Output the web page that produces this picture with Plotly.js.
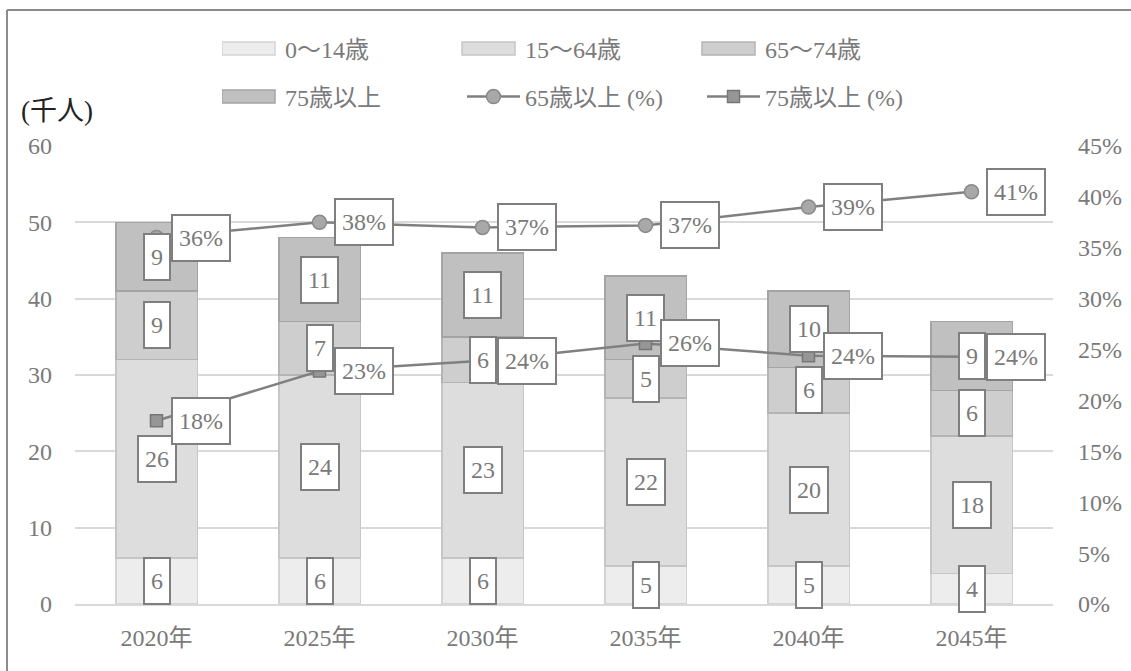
<!DOCTYPE html>
<html>
<head>
<meta charset="utf-8">
<script src="https://cdn.plot.ly/plotly-3.0.1.min.js"></script>
<style>
  html, body { margin: 0; padding: 0; background: #ffffff; }
  #chart { width: 1131px; height: 671px; }
</style>
</head>
<body>
<div id="chart"></div>
<script>
// ---- data ----
const years = ['2020年', '2025年', '2030年', '2035年', '2040年', '2045年'];
const age0to14 = [6, 6, 6, 5, 5, 4];
const age15to64 = [26, 24, 23, 22, 20, 18];
const age65to74 = [9, 7, 6, 5, 6, 6];
const age75plus = [9, 11, 11, 11, 10, 9];
const pct65plus = [36, 37.5, 37.0, 37.2, 39.0, 40.5];
const pct75plus = [18, 22.9, 23.9, 25.6, 24.4, 24.3];

const seriesNames = ['0～14歳', '15～64歳', '65～74歳', '75歳以上', '65歳以上 (%)', '75歳以上 (%)'];
const yUnit = '(千人)';

// ---- styles ----
const FONT = 'Liberation Serif, "Noto Sans CJK JP", serif';
const TXT = '#7a7a7a';
const barFill = ['#ededed', '#dddddd', '#cecece', '#c0c0c0'];
const barLine = ['#d3d3d3', '#c6c6c6', '#b4b4b4', '#a4a4a4'];
const barSeries = [age0to14, age15to64, age65to74, age75plus];

const traces = [];
barSeries.forEach((vals, i) => {
  traces.push({
    type: 'bar', x: years, y: vals, name: seriesNames[i],
    marker: { color: barFill[i], line: { color: barLine[i], width: 1.5 } },
    legend: i < 3 ? 'legend' : 'legend2',
    hoverinfo: 'skip'
  });
});
traces.push({
  type: 'scatter', mode: 'lines+markers', x: years, y: pct65plus, yaxis: 'y2',
  name: seriesNames[4], legend: 'legend2',
  line: { color: '#808080', width: 2.5 },
  marker: { symbol: 'circle', size: 14, color: '#a8a8a8', line: { color: '#8a8a8a', width: 1.5 } },
  hoverinfo: 'skip'
});
traces.push({
  type: 'scatter', mode: 'lines+markers', x: years, y: pct75plus, yaxis: 'y2',
  name: seriesNames[5], legend: 'legend2',
  line: { color: '#808080', width: 2.5 },
  marker: { symbol: 'square', size: 12, color: '#969696', line: { color: '#767676', width: 1.5 } },
  hoverinfo: 'skip'
});

// ---- labels ----
const annotations = [];
const boxStyle = {
  showarrow: false, bgcolor: '#ffffff', bordercolor: '#7f7f7f', borderwidth: 2, borderpad: 6,
  height: 32, valign: 'middle',
  font: { family: FONT, size: 24, color: TXT }
};
years.forEach((yr, j) => {
  let base = 0;
  barSeries.forEach((vals) => {
    const v = vals[j];
    annotations.push(Object.assign({}, boxStyle, {
      x: yr, y: base + v / 2, xref: 'x', yref: 'y', text: String(v),
      xanchor: 'center', yanchor: 'middle'
    }));
    base += v;
  });
});
[pct75plus, pct65plus].forEach((vals) => {
  years.forEach((yr, j) => {
    annotations.push(Object.assign({}, boxStyle, {
      x: yr, y: vals[j], xref: 'x', yref: 'y2', text: Math.round(vals[j]) + '%',
      xanchor: 'left', yanchor: 'middle', xshift: 14
    }));
  });
});
annotations.push({
  xref: 'paper', yref: 'paper', x: (57 - 75) / 978, y: (604 - 111) / 458,
  xanchor: 'center', yanchor: 'middle', showarrow: false, text: yUnit,
  font: { family: FONT, size: 27, color: '#222222' }
});

const legendBase = {
  orientation: 'h', xref: 'container', yref: 'container', xanchor: 'left', yanchor: 'middle',
  x: 222 / 1131, bgcolor: 'rgba(0,0,0,0)', borderwidth: 0,
  itemwidth: 53, entrywidth: 172, entrywidthmode: 'pixels', traceorder: 'normal',
  font: { family: FONT, size: 24, color: TXT }, itemclick: false, itemdoubleclick: false
};

const layout = {
  width: 1131, height: 671,
  margin: { l: 75, r: 78, t: 146, b: 67 },
  paper_bgcolor: '#ffffff', plot_bgcolor: '#ffffff',
  barmode: 'stack', bargap: 0.5,
  showlegend: true,
  legend: Object.assign({}, legendBase, { y: 1 - 49 / 671 }),
  legend2: Object.assign({}, legendBase, { y: 1 - 97 / 671 }),
  xaxis: {
    type: 'category', showgrid: false, showline: true, linecolor: '#d9d9d9', linewidth: 2,
    ticks: '', tickfont: { family: FONT, size: 24, color: TXT }, ticklabelstandoff: 11,
    zeroline: false
  },
  yaxis: {
    range: [0, 60], dtick: 10, showgrid: true, gridcolor: '#d9d9d9', gridwidth: 2,
    zeroline: false, showline: false, ticks: '',
    tickfont: { family: FONT, size: 24, color: TXT }, ticklabelstandoff: 22
  },
  yaxis2: {
    overlaying: 'y', side: 'right', range: [0, 45], dtick: 5, ticksuffix: '%',
    showgrid: false, zeroline: false, showline: false, ticks: '',
    tickfont: { family: FONT, size: 24, color: TXT }, ticklabelstandoff: 24
  },
  annotations: annotations,
  shapes: [
    { type: 'line', xref: 'paper', yref: 'paper', x0: -68 / 978, x1: -68 / 978, y0: 594 / 458, y1: -70 / 458,
      line: { color: '#8c8c8c', width: 2 } },
    { type: 'line', xref: 'paper', yref: 'paper', x0: -68 / 978, x1: 1060 / 978, y0: 594 / 458, y1: 594 / 458,
      line: { color: '#8c8c8c', width: 2 } }
  ]
};

// widen the bar legend swatches into flat rectangles like the reference
function widenBarSwatches(gd) {
  gd.querySelectorAll('g.legendpoints path').forEach((p) => {
    if (p.classList.contains('scatterpts')) return;
    const d = (p.getAttribute('d') || '').replace(/\s/g, '');
    if (d === 'M6,6H-6V-6H6Z') p.setAttribute('d', 'M21.5,6.5H-31.5V-6.5H21.5Z');
  });
}

const gd = document.getElementById('chart');
Plotly.newPlot(gd, traces, layout, { staticPlot: true, displayModeBar: false }).then(() => {
  widenBarSwatches(gd);
  gd.on('plotly_afterplot', () => widenBarSwatches(gd));
});
</script>
</body>
</html>
